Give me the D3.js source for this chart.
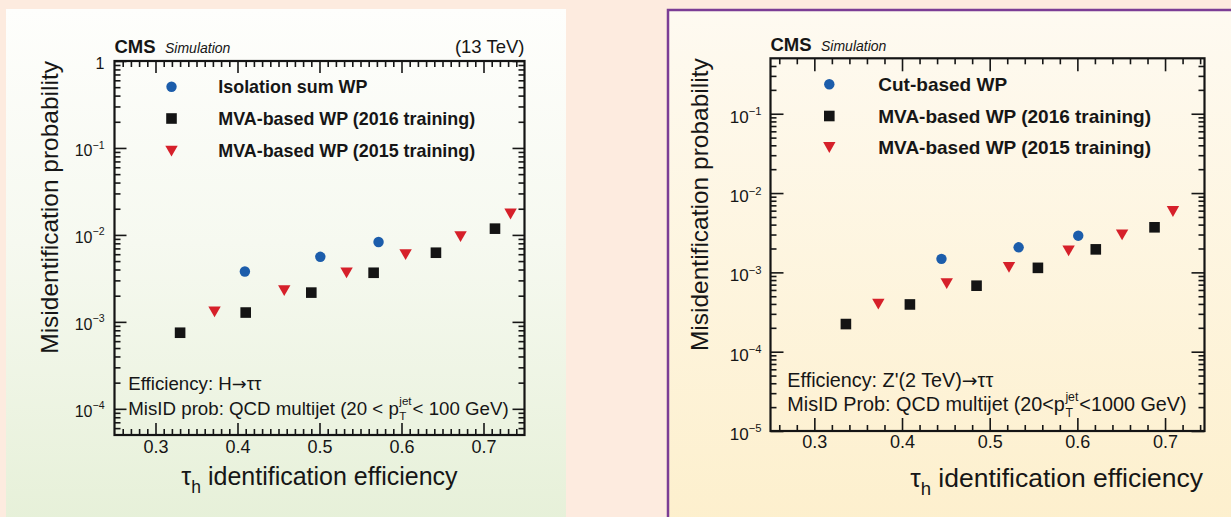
<!DOCTYPE html>
<html>
<head>
<meta charset="utf-8">
<script src="https://cdn.jsdelivr.net/npm/d3@7"></script>
<style>
  html, body { margin: 0; padding: 0; background: #fdebdf; }
  svg { display: block; }
  text { font-family: "Liberation Sans", Arial, Helvetica, sans-serif; fill: #161616; }
</style>
</head>
<body>
<svg id="chart" width="1231" height="517"></svg>
<script>
// ---------------- data ----------------
const effTicks = [0.3, 0.4, 0.5, 0.6, 0.7];

// H -> tautau efficiency, QCD multijet (20 < pT < 100 GeV) misidentification
const leftSeriesNames = ["Isolation sum WP", "MVA-based WP (2016 training)", "MVA-based WP (2015 training)"];
const leftIsoEff       = [0.409, 0.501, 0.572];
const leftIsoMisid     = [0.0038, 0.0056, 0.0083];
const leftMva2016Eff   = [0.330, 0.410, 0.490, 0.566, 0.642, 0.714];
const leftMva2016Misid = [0.00075, 0.00128, 0.00217, 0.00367, 0.00624, 0.0118];
const leftMva2015Eff   = [0.372, 0.457, 0.533, 0.605, 0.672, 0.733];
const leftMva2015Misid = [0.00131, 0.0023, 0.00367, 0.00596, 0.0096, 0.0175];
const leftYExponents   = [0, -1, -2, -3, -4];

// Z'(2 TeV) -> tautau efficiency, QCD multijet (20 < pT < 1000 GeV) misidentification
const rightSeriesNames = ["Cut-based WP", "MVA-based WP (2016 training)", "MVA-based WP (2015 training)"];
const rightCutEff       = [0.445, 0.533, 0.601];
const rightCutMisid     = [0.00148, 0.00207, 0.0029];
const rightMva2016Eff   = [0.336, 0.409, 0.485, 0.555, 0.621, 0.688];
const rightMva2016Misid = [0.000223, 0.000394, 0.000679, 0.00114, 0.00195, 0.0037];
const rightMva2015Eff   = [0.373, 0.451, 0.522, 0.590, 0.651, 0.709];
const rightMva2015Misid = [0.000399, 0.000726, 0.00116, 0.00188, 0.00299, 0.00589];
const rightYExponents   = [-1, -2, -3, -4, -5];

// ---------------- styling ----------------
const COL_BLUE = "#1c5dab", COL_BLACK = "#141414", COL_RED = "#d6202a";
const svg = d3.select("#chart");

// panel backgrounds
const defs = svg.append("defs");
const gL = defs.append("linearGradient").attr("id", "bgLeft").attr("x1", 0).attr("y1", 0).attr("x2", 0).attr("y2", 1);
gL.append("stop").attr("offset", "0%").attr("stop-color", "#fefefc");
gL.append("stop").attr("offset", "45%").attr("stop-color", "#f6f9f0");
gL.append("stop").attr("offset", "100%").attr("stop-color", "#e6f0d8");
const gR = defs.append("linearGradient").attr("id", "bgRight").attr("x1", 0).attr("y1", 0).attr("x2", 0).attr("y2", 1);
gR.append("stop").attr("offset", "0%").attr("stop-color", "#fefaf1");
gR.append("stop").attr("offset", "100%").attr("stop-color", "#fdefcb");

svg.append("rect").attr("x", 6).attr("y", 9).attr("width", 560).attr("height", 520).attr("fill", "url(#bgLeft)");
svg.append("rect").attr("x", 668).attr("y", 10).attr("width", 620).attr("height", 540)
  .attr("fill", "url(#bgRight)").attr("stroke", "#7b3d95").attr("stroke-width", 2.5);

// ---------------- marker shapes ----------------
function addMarker(g, shape, cx, cy, color) {
  if (shape === "circle") {
    g.append("circle").attr("cx", cx).attr("cy", cy).attr("r", 5.2).attr("fill", color);
  } else if (shape === "square") {
    g.append("rect").attr("x", cx - 5.3).attr("y", cy - 5.3).attr("width", 10.6).attr("height", 10.6).attr("fill", color);
  } else {
    const p = d3.path();
    p.moveTo(cx - 6.2, cy - 5.2); p.lineTo(cx + 6.2, cy - 5.2); p.lineTo(cx, cy + 5.6); p.closePath();
    g.append("path").attr("d", p.toString()).attr("fill", color);
  }
}

// plain text where the arrow glyph comes from a font with a longer arrow
function arrowText(g, x, y, fs, str) {
  const t = g.append("text").attr("x", x).attr("y", y).attr("font-size", fs);
  str.split(/(\u2192)/).forEach(part => {
    const ts = t.append("tspan").text(part);
    if (part === "\u2192") ts.attr("font-family", "DejaVu Sans").attr("font-size", fs * 0.95);
  });
  return t;
}

// text with a stacked p_T^jet
function ptJetText(g, x, y, fs, before, after) {
  const t1 = g.append("text").attr("x", x).attr("y", y).attr("font-size", fs).text(before);
  const w1 = t1.node().getComputedTextLength();
  const sub = fs * 0.62;
  const tj = g.append("text").attr("x", x + w1 + 0.5).attr("y", y - fs * 0.52).attr("font-size", sub).text("jet");
  g.append("text").attr("x", x + w1 + 0.5).attr("y", y + fs * 0.28).attr("font-size", sub).text("T");
  const wj = tj.node().getComputedTextLength();
  g.append("text").attr("x", x + w1 + wj + 1.5).attr("y", y).attr("font-size", fs).text(after);
}

// ---------------- panel ----------------
function drawPanel(cfg) {
  const g = svg.append("g");
  const x = d3.scaleLinear().domain(cfg.xDomain).range([cfg.left, cfg.right]);
  const y = d3.scaleLog().domain(cfg.yDomain).range([cfg.bottom, cfg.top]);

  // tick positions
  const step = cfg.xMinorStep;
  const xMinor = d3.range(Math.ceil(cfg.xDomain[0] / step - 1e-9), Math.floor(cfg.xDomain[1] / step + 1e-9) + 1)
    .map(i => +(i * step).toFixed(4))
    .filter(v => !effTicks.some(t => Math.abs(t - v) < 1e-6) && v > cfg.xDomain[0] + 1e-6 && v < cfg.xDomain[1] - 1e-6);
  const lo = Math.floor(Math.log10(cfg.yDomain[0])), hi = Math.ceil(Math.log10(cfg.yDomain[1]));
  const yMajor = [], yMinor = [];
  for (let e = lo; e <= hi; e++) {
    const v = Math.pow(10, e);
    if (v >= cfg.yDomain[0] * 0.999 && v <= cfg.yDomain[1] * 1.001) yMajor.push(v);
    for (let m = 2; m <= 9; m++) {
      const u = m * v;
      if (u > cfg.yDomain[0] * 1.0001 && u < cfg.yDomain[1] * 0.9999) yMinor.push(u);
    }
  }

  const styleAxis = sel => {
    sel.select(".domain").remove();
    sel.selectAll("line").attr("stroke", "#161616").attr("stroke-width", 1.6);
  };
  const M = cfg.majorLen, m = cfg.minorLen;

  // bottom / top
  g.append("g").attr("transform", `translate(0,${cfg.bottom})`)
    .call(d3.axisBottom(x).tickValues(xMinor).tickSizeInner(-m).tickSizeOuter(0).tickFormat(""))
    .call(styleAxis);
  const xb = g.append("g").attr("transform", `translate(0,${cfg.bottom})`)
    .call(d3.axisBottom(x).tickValues(effTicks).tickSizeInner(-M).tickSizeOuter(0).tickPadding(cfg.xLabelPad).tickFormat(d3.format(".1f")))
    .call(styleAxis);
  xb.attr("font-size", null).attr("font-family", null);
  xb.selectAll("text").attr("font-size", cfg.tickFs).attr("fill", "#161616");
  g.append("g").attr("transform", `translate(0,${cfg.top})`)
    .call(d3.axisTop(x).tickValues(xMinor).tickSizeInner(-m).tickSizeOuter(0).tickFormat(""))
    .call(styleAxis);
  g.append("g").attr("transform", `translate(0,${cfg.top})`)
    .call(d3.axisTop(x).tickValues(effTicks).tickSizeInner(-M).tickSizeOuter(0).tickFormat(""))
    .call(styleAxis);

  // left / right
  g.append("g").attr("transform", `translate(${cfg.left},0)`)
    .call(d3.axisLeft(y).tickValues(yMinor).tickSizeInner(-m).tickSizeOuter(0).tickFormat(""))
    .call(styleAxis);
  g.append("g").attr("transform", `translate(${cfg.left},0)`)
    .call(d3.axisLeft(y).tickValues(yMajor).tickSizeInner(-M).tickSizeOuter(0).tickFormat(""))
    .call(styleAxis);
  g.append("g").attr("transform", `translate(${cfg.right},0)`)
    .call(d3.axisRight(y).tickValues(yMinor).tickSizeInner(-m).tickSizeOuter(0).tickFormat(""))
    .call(styleAxis);
  g.append("g").attr("transform", `translate(${cfg.right},0)`)
    .call(d3.axisRight(y).tickValues(yMajor).tickSizeInner(-M).tickSizeOuter(0).tickFormat(""))
    .call(styleAxis);

  // frame
  g.append("rect").attr("x", cfg.left).attr("y", cfg.top)
    .attr("width", cfg.right - cfg.left).attr("height", cfg.bottom - cfg.top)
    .attr("fill", "none").attr("stroke", "#141414").attr("stroke-width", 2.2);

  // y tick labels (powers of ten)
  cfg.yExps.forEach(e => {
    const t = g.append("text").attr("x", cfg.left - cfg.yLabelPad)
      .attr("y", y(Math.pow(10, e)) + cfg.yLabelFs * 0.36 + cfg.yLabelDrop)
      .attr("text-anchor", "end").attr("font-size", cfg.yLabelFs);
    if (e === 0) { t.text("1"); return; }
    t.append("tspan").text("10");
    t.append("tspan").attr("font-size", cfg.yLabelFs * 0.66).attr("dy", -cfg.yLabelFs * 0.45).text("\u2212" + Math.abs(e));
  });

  // axis titles
  const xt = g.append("text").attr("x", cfg.xTitleX).attr("y", cfg.xTitleY)
    .attr("text-anchor", cfg.xTitleAnchor).attr("font-size", cfg.titleFsX);
  xt.append("tspan").text("\u03c4");
  xt.append("tspan").attr("font-size", cfg.titleFsX * 0.7).attr("dy", cfg.titleFsX * 0.3).text("h");
  xt.append("tspan").attr("dy", -cfg.titleFsX * 0.3).text(" identification efficiency");

  g.append("text").attr("transform", `translate(${cfg.yTitleX},${cfg.top}) rotate(-90)`)
    .attr("text-anchor", "end").attr("font-size", cfg.titleFsY).text("Misidentification probability");

  // header
  g.append("text").attr("x", cfg.left).attr("y", cfg.headerY).attr("font-size", cfg.cmsFs)
    .attr("font-weight", "bold").text("CMS");
  g.append("text").attr("x", cfg.simX).attr("y", cfg.headerY).attr("font-size", cfg.simFs)
    .attr("font-style", "italic").text("Simulation");
  if (cfg.energy) {
    g.append("text").attr("x", cfg.right).attr("y", cfg.headerY).attr("font-size", cfg.energyFs)
      .attr("text-anchor", "end").text(cfg.energy);
  }

  // legend
  const shapes = ["circle", "square", "triangle"];
  const colors = [COL_BLUE, COL_BLACK, COL_RED];
  cfg.names.forEach((name, i) => {
    addMarker(g, shapes[i], cfg.legMarkX, cfg.legRows[i], colors[i]);
    g.append("text").attr("x", cfg.legTextX).attr("y", cfg.legRows[i] + cfg.legFs * 0.36)
      .attr("font-size", cfg.legFs).attr("font-weight", "bold").text(name);
  });

  // notes
  arrowText(g, cfg.noteX, cfg.noteY1, cfg.noteFs, cfg.note1);
  ptJetText(g, cfg.noteX, cfg.noteY2, cfg.noteFs, cfg.note2a, cfg.note2b);

  // data points
  const series = [
    { shape: "circle", color: COL_BLUE, xs: cfg.s1x, ys: cfg.s1y },
    { shape: "square", color: COL_BLACK, xs: cfg.s2x, ys: cfg.s2y },
    { shape: "triangle", color: COL_RED, xs: cfg.s3x, ys: cfg.s3y }
  ];
  series.forEach(s => s.xs.forEach((v, i) => addMarker(g, s.shape, x(v), y(s.ys[i]), s.color)));
}

drawPanel({
  left: 114.5, right: 524.5, top: 61, bottom: 435,
  xDomain: [0.25, 0.75], yDomain: [5e-5, 1], xMinorStep: 0.01,
  majorLen: 12, minorLen: 6,
  tickFs: 18, xLabelPad: 5.5,
  yExps: leftYExponents, yLabelFs: 16, yLabelPad: 10, yLabelDrop: 2,
  titleFsX: 25, titleFsY: 24.5, xTitleX: 319.5, xTitleY: 485, xTitleAnchor: "middle", yTitleX: 58,
  headerY: 52.5, cmsFs: 18.5, simX: 165, simFs: 14, energy: "(13 TeV)", energyFs: 18.5,
  names: leftSeriesNames, legMarkX: 171.5, legRows: [86.7, 118.5, 151], legTextX: 218.3, legFs: 17.9,
  noteX: 128.3, noteY1: 390, noteY2: 414.5, noteFs: 18.7,
  note1: "Efficiency: H\u2192\u03c4\u03c4", note2a: "MisID prob: QCD multijet (20 < p", note2b: "< 100 GeV)",
  s1x: leftIsoEff, s1y: leftIsoMisid,
  s2x: leftMva2016Eff, s2y: leftMva2016Misid,
  s3x: leftMva2015Eff, s3y: leftMva2015Misid
});

drawPanel({
  left: 770.5, right: 1204.5, top: 58.3, bottom: 431,
  xDomain: [0.25, 0.745], yDomain: [1e-5, 0.5], xMinorStep: 0.02,
  majorLen: 13, minorLen: 6,
  tickFs: 18, xLabelPad: 4.7,
  yExps: rightYExponents, yLabelFs: 17, yLabelPad: 9, yLabelDrop: 3,
  titleFsX: 26.5, titleFsY: 24.5, xTitleX: 1203, xTitleY: 487, xTitleAnchor: "end", yTitleX: 708,
  headerY: 50.5, cmsFs: 18.5, simX: 821, simFs: 14, energy: null,
  names: rightSeriesNames, legMarkX: 829.3, legRows: [84.3, 116, 147.3], legTextX: 878.3, legFs: 19,
  noteX: 787.3, noteY1: 386.5, noteY2: 411, noteFs: 19.8,
  note1: "Efficiency: Z'(2 TeV)\u2192\u03c4\u03c4", note2a: "MisID Prob: QCD multijet (20<p", note2b: "<1000 GeV)",
  s1x: rightCutEff, s1y: rightCutMisid,
  s2x: rightMva2016Eff, s2y: rightMva2016Misid,
  s3x: rightMva2015Eff, s3y: rightMva2015Misid
});
</script>
</body>
</html>
